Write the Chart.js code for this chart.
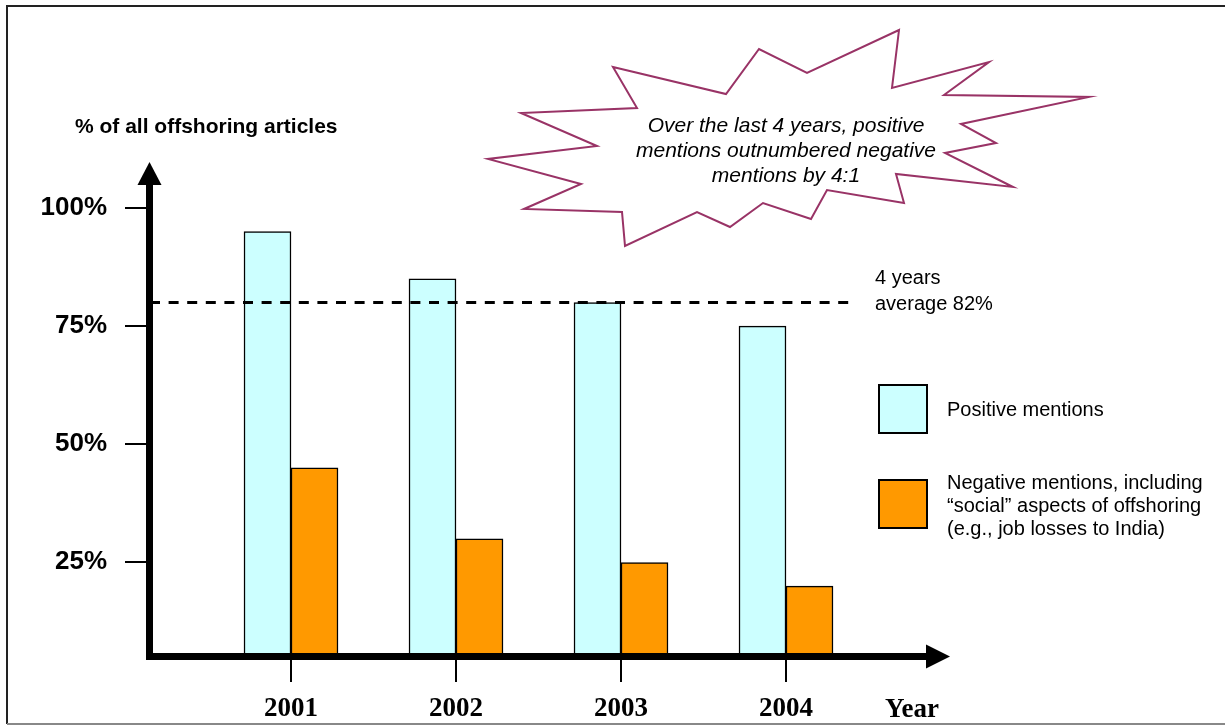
<!DOCTYPE html>
<html>
<head>
<meta charset="utf-8">
<title>Offshoring articles: positive vs negative mentions</title>
<script src="https://cdn.jsdelivr.net/npm/chart.js@4/dist/chart.umd.min.js"></script>
<style>
  html, body { margin: 0; padding: 0; background: #fff; }
  #wrap { width: 1225px; height: 726px; }
</style>
</head>
<body>
<div id="wrap"><canvas id="chart" width="1225" height="726"></canvas></div>
<script>
// Share of offshoring articles by tone, per year (%)
const years = ['2001', '2002', '2003', '2004'];
const positiveShare = [95, 85, 80, 75];
const negativeShare = [45, 30, 25, 20];
const yTicks = [25, 50, 75, 100];
const averageValue = 80;
const averageText = ['4 years', 'average 82%'];
const positiveLabel = ['Positive mentions'];
const negativeLabel = ['Negative mentions, including', '\u201csocial\u201d aspects of offshoring', '(e.g., job losses to India)'];
const calloutText = ['Over the last 4 years, positive', 'mentions outnumbered negative', 'mentions by 4:1'];

const SANS = '"Liberation Sans", Arial, sans-serif';
const SERIF = '"Liberation Serif", "Times New Roman", serif';

// starburst outline (pixel points of the callout shape)
const burst = [
  [613, 67], [726, 94], [759, 49], [807, 73], [899, 30], [892, 88], [989, 62],
  [944, 95], [1089, 97], [961, 124], [996, 143], [945, 153], [1013, 187],
  [896, 174], [904, 203], [827, 190], [811, 219], [763, 203], [730, 227],
  [697, 212], [625, 246], [622, 212], [524, 209], [581, 184], [488, 159],
  [597, 146], [521, 113], [637, 108]
];

const decor = {
  id: 'decor',
  afterDatasetsDraw(chart) {
    const { ctx, scales: { x, y } } = chart;
    ctx.save();

    // dashed average line, drawn over the bars
    const avgY = y.getPixelForValue(averageValue);
    ctx.strokeStyle = '#000';
    ctx.lineWidth = 3;
    ctx.setLineDash([10, 8.6]);
    ctx.beginPath();
    ctx.moveTo(150, avgY);
    ctx.lineTo(856, avgY);
    ctx.stroke();
    ctx.setLineDash([]);

    ctx.fillStyle = '#000';
    ctx.font = '20px ' + SANS;
    ctx.textAlign = 'left';
    ctx.textBaseline = 'alphabetic';
    ctx.fillText(averageText[0], 875, 284);
    ctx.fillText(averageText[1], 875, 310);

    // axes with arrow heads
    ctx.fillRect(146, 184, 7, 476);
    ctx.beginPath();
    ctx.moveTo(137.5, 185);
    ctx.lineTo(161.5, 185);
    ctx.lineTo(149.5, 162);
    ctx.closePath();
    ctx.fill();

    ctx.fillRect(146, 653, 781, 7);
    ctx.beginPath();
    ctx.moveTo(926, 644.5);
    ctx.lineTo(926, 668.5);
    ctx.lineTo(950, 656.5);
    ctx.closePath();
    ctx.fill();

    // y ticks
    ctx.lineWidth = 2;
    ctx.strokeStyle = '#000';
    ctx.font = 'bold 26px ' + SANS;
    ctx.textAlign = 'right';
    ctx.textBaseline = 'middle';
    yTicks.forEach((t) => {
      const py = Math.round(y.getPixelForValue(t));
      ctx.beginPath();
      ctx.moveTo(125, py);
      ctx.lineTo(147, py);
      ctx.stroke();
      ctx.fillText(t + '%', 107, py);
    });

    // x ticks and year labels
    ctx.font = 'bold 27px ' + SERIF;
    ctx.textAlign = 'center';
    ctx.textBaseline = 'alphabetic';
    years.forEach((yr, i) => {
      const px = Math.round(x.getPixelForValue(i));
      ctx.beginPath();
      ctx.moveTo(px, 660);
      ctx.lineTo(px, 682);
      ctx.stroke();
      ctx.fillText(yr, px, 716);
    });
    ctx.textAlign = 'left';
    ctx.fillText('Year', 885, 717);

    // axis title
    ctx.font = 'bold 21px ' + SANS;
    ctx.fillText('% of all offshoring articles', 75, 133);

    // legend
    const ds = chart.data.datasets;
    const legendRows = [
      { top: 385, lines: positiveLabel, base: 416 },
      { top: 480, lines: negativeLabel, base: 489 }
    ];
    ctx.font = '20px ' + SANS;
    legendRows.forEach((row, i) => {
      ctx.fillStyle = ds[i].backgroundColor;
      ctx.fillRect(879, row.top, 48, 48);
      ctx.strokeStyle = '#000';
      ctx.lineWidth = 2;
      ctx.strokeRect(879, row.top, 48, 48);
      ctx.fillStyle = '#000';
      row.lines.forEach((ln, j) => ctx.fillText(ln, 947, row.base + j * 23));
    });

    // starburst callout
    ctx.beginPath();
    burst.forEach(([bx, by], i) => (i ? ctx.lineTo(bx, by) : ctx.moveTo(bx, by)));
    ctx.closePath();
    ctx.fillStyle = '#fff';
    ctx.fill();
    ctx.strokeStyle = '#993366';
    ctx.lineWidth = 2;
    ctx.lineJoin = 'miter';
    ctx.stroke();

    ctx.fillStyle = '#000';
    ctx.font = 'italic 21px ' + SANS;
    ctx.textAlign = 'center';
    calloutText.forEach((ln, j) => ctx.fillText(ln, 786, 132 + j * 25));

    // outer frame
    ctx.strokeStyle = '#222';
    ctx.lineWidth = 2;
    ctx.beginPath();
    ctx.moveTo(1225, 6);
    ctx.lineTo(7, 6);
    ctx.lineTo(7, 724);
    ctx.stroke();
    ctx.strokeStyle = '#888';
    ctx.beginPath();
    ctx.moveTo(7, 724);
    ctx.lineTo(1225, 724);
    ctx.stroke();

    ctx.restore();
  }
};

const ctx = document.getElementById('chart').getContext('2d');

new Chart(ctx, {
  type: 'bar',
  data: {
    labels: years,
    datasets: [
      {
        label: positiveLabel.join(' '),
        data: positiveShare,
        backgroundColor: '#CCFFFF',
        borderColor: '#000',
        borderWidth: 1.5,
        barThickness: 47
      },
      {
        label: negativeLabel.join(' '),
        data: negativeShare,
        backgroundColor: '#FF9900',
        borderColor: '#000',
        borderWidth: 1.5,
        barThickness: 47
      }
    ]
  },
  options: {
    responsive: false,
    animation: false,
    layout: {
      padding: { left: 208.5, right: 356.5, top: 208, bottom: 69 }
    },
    plugins: {
      legend: { display: false },
      title: { display: false },
      tooltip: { enabled: false }
    },
    scales: {
      x: { display: false, offset: true },
      y: { display: false, min: 5, max: 100 }
    }
  },
  plugins: [decor]
});
</script>
</body>
</html>
